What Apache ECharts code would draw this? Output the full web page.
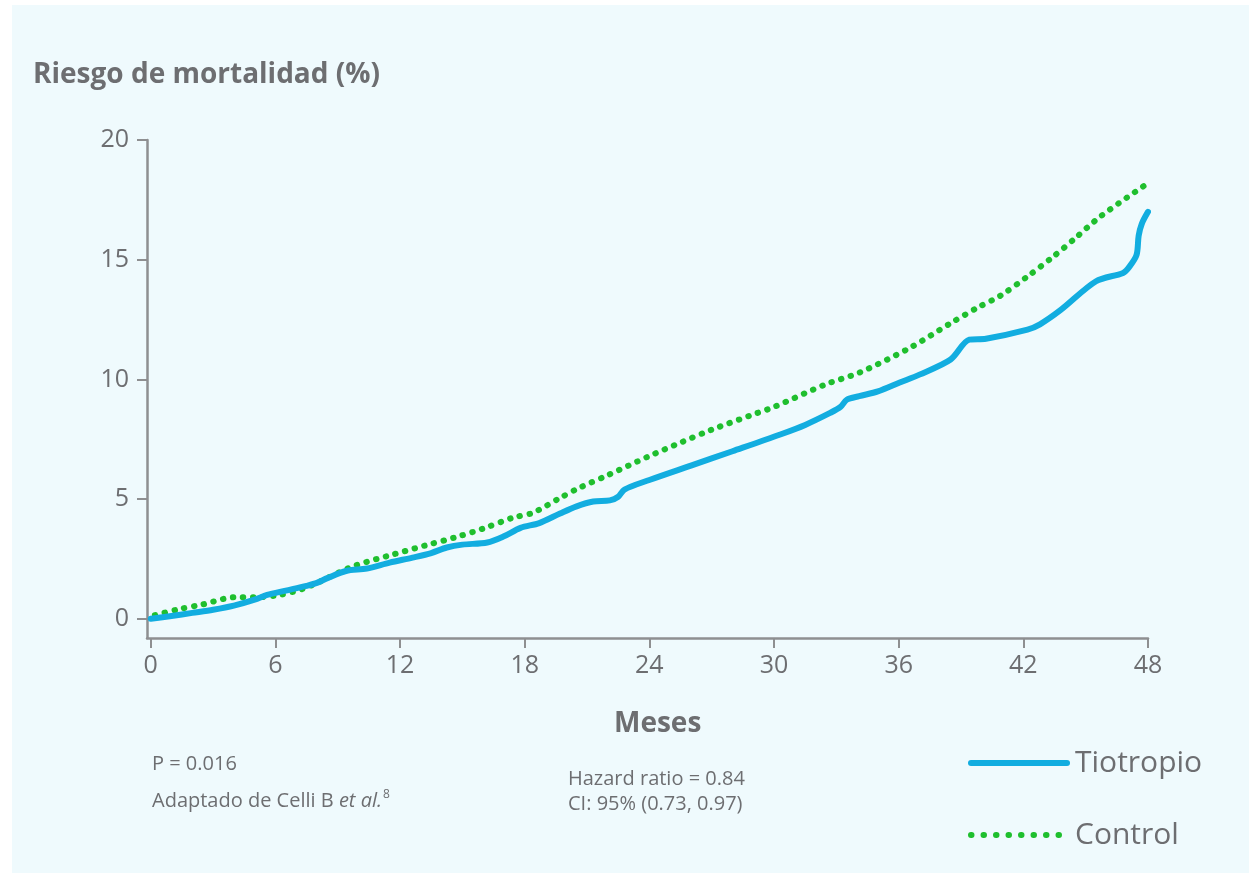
<!DOCTYPE html>
<html>
<head>
<meta charset="utf-8">
<title>Riesgo de mortalidad</title>
<script src="https://cdn.jsdelivr.net/npm/echarts@6/dist/echarts.min.js"></script>
<style>
  html, body { margin: 0; padding: 0; background: #ffffff; }
  #panel { position: absolute; left: 12px; top: 5px; right: 0; bottom: 0; background: #effafd; }
  #chart { position: absolute; left: 0; top: 0; width: 1249px; height: 873px; }
</style>
</head>
<body>
<div id="panel"></div>
<div id="chart"></div>
<script>
// Months of follow-up and cumulative mortality risk (%) for each arm
const tiotropioMonths = [0, 1, 2, 3, 4, 5, 5.6, 6.5, 7.5, 8, 8.5, 9.4, 10.4, 11.5, 12.6, 13.5, 14.25, 15, 16.2, 17, 17.8, 18.7, 19.7, 20.5, 21.3, 22.1, 22.5, 22.8, 24, 26, 28, 30.3, 31.5, 32.7, 33.2, 33.5, 34.1, 35, 36.05, 37, 38.5, 39.4, 40.2, 42.2, 42.8, 43.8, 45.5, 46.8, 47.1, 47.45, 47.55, 47.7, 48];
const tiotropioRisk = [0, 0.12, 0.25, 0.38, 0.55, 0.8, 1.0, 1.18, 1.38, 1.5, 1.7, 2.0, 2.1, 2.35, 2.56, 2.75, 2.98, 3.1, 3.19, 3.45, 3.8, 4.0, 4.4, 4.7, 4.9, 4.95, 5.1, 5.4, 5.8, 6.4, 7.0, 7.7, 8.1, 8.6, 8.85, 9.15, 9.3, 9.5, 9.87, 10.2, 10.83, 11.66, 11.7, 12.08, 12.3, 12.9, 14.1, 14.45, 14.7, 15.2, 16.0, 16.5, 17.0];

const controlMonths = [0.2, 1.3, 2.5, 3, 4, 5, 6.2, 7.3, 8, 9.7, 11.5, 13.2, 14.6, 16, 17.45, 18.4, 19.7, 20.65, 22, 24, 25.5, 27, 29.2, 30, 32.5, 34.1, 36.5, 38.6, 39.8, 40.9, 42.2, 43.4, 44.5, 45.7, 48];
const controlRisk = [0.15, 0.39, 0.6, 0.72, 0.9, 0.9, 1.0, 1.25, 1.5, 2.18, 2.65, 3.06, 3.39, 3.77, 4.23, 4.43, 5.05, 5.48, 6.0, 6.8, 7.36, 7.9, 8.6, 8.85, 9.8, 10.28, 11.3, 12.4, 13.0, 13.5, 14.3, 15.1, 15.9, 16.8, 18.2];

const monthTicks = [0, 6, 12, 18, 24, 30, 36, 42, 48];
const riskTicks = [0, 5, 10, 15, 20];

const seriesNames = ['Tiotropio', 'Control'];

const GREY_TEXT = '#6d6e71';
const GREY_AXIS = '#8e8f91';
const BLUE = '#12ade0';
const GREEN = '#1fbf2e';
const FONT = '"Open Sans", "Noto Sans", sans-serif';

const pairs = (xs, ys) => xs.map((x, i) => [x, ys[i]]);

const chart = echarts.init(document.getElementById('chart'), null, { renderer: 'canvas' });

chart.setOption({
  backgroundColor: 'transparent',
  animation: false,
  textStyle: { fontFamily: FONT },
  title: [
    {
      text: 'Riesgo de mortalidad (%)',
      left: 33, top: 61, padding: 0,
      textStyle: { fontFamily: FONT, fontWeight: 'bold', fontSize: 28, color: GREY_TEXT }
    },
    {
      text: 'Meses',
      left: 614, top: 710, padding: 0,
      textStyle: { fontFamily: FONT, fontWeight: 'bold', fontSize: 28, color: GREY_TEXT }
    },
    {
      text: 'P = 0.016',
      left: 152, top: 754, padding: 0,
      textStyle: { fontFamily: FONT, fontWeight: 'normal', fontSize: 20, color: GREY_TEXT }
    },
    {
      text: '{n|Adaptado de Celli B }{i|et al.}{s|8}',
      left: 152, top: 789, padding: 0,
      textStyle: {
        fontFamily: FONT, fontWeight: 'normal', fontSize: 20, color: GREY_TEXT,
        rich: {
          n: { fontFamily: FONT, fontSize: 20, color: GREY_TEXT },
          i: { fontFamily: FONT, fontSize: 20, fontStyle: 'italic', color: GREY_TEXT },
          s: { fontFamily: FONT, fontSize: 12, color: GREY_TEXT, verticalAlign: 'top', padding: [0, 0, 12, 1] }
        }
      }
    },
    {
      text: 'Hazard ratio = 0.84\nCI: 95% (0.73, 0.97)',
      left: 568, top: 767, padding: 0,
      textStyle: { fontFamily: FONT, fontWeight: 'normal', fontSize: 20, lineHeight: 25, color: GREY_TEXT }
    }
  ],
  legend: {
    orient: 'vertical',
    left: 968, top: 748,
    itemWidth: 96, itemHeight: 30, itemGap: 42,
    padding: 0,
    itemStyle: { opacity: 0 },
    textStyle: { fontFamily: FONT, fontSize: 30, color: GREY_TEXT, padding: [0, 0, 0, 3] },
    data: [
      { name: seriesNames[0], lineStyle: { type: 'solid', width: 6, cap: 'round', color: BLUE } },
      { name: seriesNames[1], lineStyle: { type: [0.5, 12], width: 6, cap: 'round', color: GREEN } }
    ]
  },
  grid: { left: 147, right: 101, top: 140, bottom: 235, containLabel: false },
  xAxis: {
    type: 'value',
    min: -0.18, max: 48,
    axisLine: { show: true, onZero: false, lineStyle: { color: GREY_AXIS, width: 2.5 } },
    axisTick: { show: true, customValues: monthTicks, length: 10, lineStyle: { color: GREY_AXIS, width: 2 } },
    axisLabel: { customValues: monthTicks, margin: 15, fontSize: 25, color: GREY_TEXT, fontFamily: FONT },
    splitLine: { show: false }
  },
  yAxis: {
    type: 'value',
    min: -0.8, max: 20,
    axisLine: { show: true, onZero: false, lineStyle: { color: GREY_AXIS, width: 2.5 } },
    axisTick: { show: true, customValues: riskTicks, length: 10, lineStyle: { color: GREY_AXIS, width: 2 } },
    axisLabel: { customValues: riskTicks, margin: 18, fontSize: 25, color: GREY_TEXT, fontFamily: FONT },
    splitLine: { show: false }
  },
  series: [
    {
      name: seriesNames[1],
      type: 'line',
      data: pairs(controlMonths, controlRisk),
      symbol: 'none',
      smooth: 0.3,
      lineStyle: { color: GREEN, width: 6, type: [0.5, 9.5], cap: 'round' },
      itemStyle: { color: GREEN },
      z: 2
    },
    {
      name: seriesNames[0],
      type: 'line',
      data: pairs(tiotropioMonths, tiotropioRisk),
      symbol: 'none',
      smooth: 0.3,
      lineStyle: { color: BLUE, width: 6, cap: 'round', join: 'round' },
      itemStyle: { color: BLUE },
      z: 3
    }
  ]
});
</script>
</body>
</html>
